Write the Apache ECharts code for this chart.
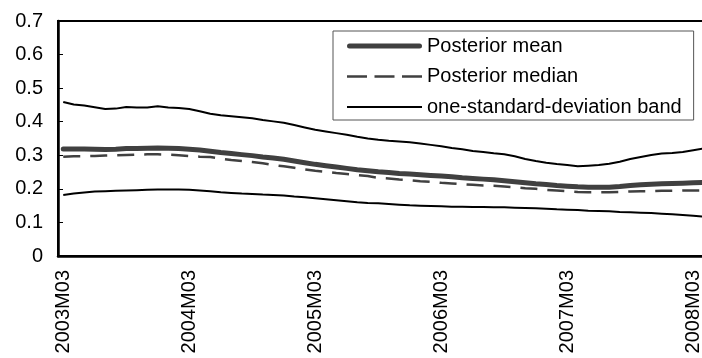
<!DOCTYPE html>
<html>
<head>
<meta charset="utf-8">
<script src="https://cdn.jsdelivr.net/npm/echarts@6/dist/echarts.min.js"></script>
<style>
  html, body { margin: 0; padding: 0; background: #fff; }
  #chart { width: 702px; height: 358px; }
</style>
</head>
<body>
<div id="chart"></div>
<script>
// months shown on the category axis
var months = [
  '2003M03', '2003M04', '2003M05', '2003M06', '2003M07', '2003M08', '2003M09', '2003M10', '2003M11', '2003M12',
  '2004M01', '2004M02', '2004M03', '2004M04', '2004M05', '2004M06', '2004M07', '2004M08', '2004M09', '2004M10',
  '2004M11', '2004M12', '2005M01', '2005M02', '2005M03', '2005M04', '2005M05', '2005M06', '2005M07', '2005M08',
  '2005M09', '2005M10', '2005M11', '2005M12', '2006M01', '2006M02', '2006M03', '2006M04', '2006M05', '2006M06',
  '2006M07', '2006M08', '2006M09', '2006M10', '2006M11', '2006M12', '2007M01', '2007M02', '2007M03', '2007M04',
  '2007M05', '2007M06', '2007M07', '2007M08', '2007M09', '2007M10', '2007M11', '2007M12', '2008M01', '2008M02',
  '2008M03', '2008M04'
];

var posteriorMean = [
  0.319, 0.319, 0.319, 0.318, 0.317, 0.318, 0.320, 0.320, 0.321, 0.322,
  0.321, 0.320, 0.318, 0.316, 0.312, 0.308, 0.305, 0.302, 0.299, 0.295,
  0.292, 0.288, 0.283, 0.278, 0.273, 0.269, 0.265, 0.261, 0.257, 0.254,
  0.251, 0.249, 0.246, 0.244, 0.242, 0.240, 0.238, 0.236, 0.233, 0.231,
  0.229, 0.227, 0.224, 0.221, 0.218, 0.215, 0.213, 0.210, 0.208, 0.206,
  0.205, 0.205, 0.205, 0.207, 0.210, 0.212, 0.214, 0.215, 0.216, 0.217,
  0.218, 0.219
];

var posteriorMedian = [
  0.296, 0.297, 0.297, 0.298, 0.299, 0.300, 0.301, 0.302, 0.303, 0.303,
  0.302, 0.300, 0.298, 0.296, 0.295, 0.290, 0.286, 0.283, 0.280, 0.276,
  0.271, 0.267, 0.263, 0.258, 0.254, 0.251, 0.247, 0.244, 0.241, 0.238,
  0.233, 0.231, 0.228, 0.226, 0.223, 0.221, 0.218, 0.216, 0.214, 0.212,
  0.210, 0.209, 0.207, 0.205, 0.202, 0.200, 0.197, 0.195, 0.193, 0.191,
  0.190, 0.190, 0.190, 0.191, 0.192, 0.193, 0.193, 0.194, 0.194, 0.195,
  0.195, 0.195
];

var bandUpper = [
  0.459, 0.451, 0.448, 0.443, 0.438, 0.439, 0.444, 0.442, 0.442, 0.446,
  0.442, 0.441, 0.438, 0.431, 0.424, 0.419, 0.416, 0.413, 0.410, 0.405,
  0.401, 0.397, 0.390, 0.383, 0.376, 0.371, 0.366, 0.361, 0.355, 0.350,
  0.346, 0.343, 0.341, 0.339, 0.335, 0.331, 0.327, 0.322, 0.318, 0.313,
  0.310, 0.306, 0.303, 0.297, 0.289, 0.283, 0.278, 0.274, 0.271, 0.267,
  0.269, 0.271, 0.275, 0.281, 0.289, 0.295, 0.301, 0.305, 0.307, 0.310,
  0.315, 0.320
];

var bandLower = [
  0.182, 0.186, 0.189, 0.192, 0.193, 0.194, 0.195, 0.196, 0.197, 0.198,
  0.198, 0.198, 0.197, 0.195, 0.193, 0.190, 0.188, 0.186, 0.185, 0.183,
  0.182, 0.180, 0.177, 0.175, 0.172, 0.169, 0.166, 0.163, 0.160, 0.158,
  0.157, 0.155, 0.153, 0.151, 0.150, 0.149, 0.148, 0.147, 0.147, 0.146,
  0.146, 0.145, 0.145, 0.144, 0.143, 0.142, 0.141, 0.139, 0.138, 0.137,
  0.135, 0.134, 0.133, 0.131, 0.130, 0.129, 0.128, 0.126, 0.124, 0.122,
  0.120, 0.117
];

var FONT = '"Liberation Sans", Arial, Helvetica, sans-serif';
var BAND = 'one-standard-deviation band';

// legend swatches drawn as plain line shapes (75 px long)
var iconThick = 'path://M2.5,0 H72.5 A2.5,2.5 0 0 1 72.5,5 H2.5 A2.5,2.5 0 0 1 2.5,0 Z';
var iconDash = 'path://M0,0 H20 V2.5 H0 Z M27.5,0 H47.5 V2.5 H27.5 Z M55,0 H75 V2.5 H55 Z';
var iconThin = 'path://M0,0 H75 V2 H0 Z';

var chart = echarts.init(document.getElementById('chart'), null, { renderer: 'canvas' });

var bandLine = { color: '#000', width: 2 };

chart.setOption({
  animation: false,
  backgroundColor: '#fff',
  textStyle: { fontFamily: FONT, color: '#000' },
  grid: {
    left: 58,
    top: 21,
    bottom: 102,
    right: -7,
    show: true,
    borderColor: '#000',
    borderWidth: 2,
    outerBoundsMode: 'none'
  },
  legend: {
    orient: 'vertical',
    left: 333,
    top: 31,
    data: [
      { name: 'Posterior mean', icon: iconThick },
      { name: 'Posterior median', icon: iconDash },
      { name: BAND, icon: iconThin }
    ],
    itemWidth: 75,
    itemHeight: 10,
    itemGap: 10.5,
    itemTextGap: 4,
    itemStyle: { borderWidth: 0 },
    padding: [5, 12, 3, 14],
    backgroundColor: '#fff',
    borderColor: '#555',
    borderWidth: 1,
    textStyle: { fontFamily: FONT, fontSize: 20, lineHeight: 20, color: '#000' }
  },
  xAxis: {
    type: 'category',
    data: months,
    boundaryGap: true,
    axisLine: { lineStyle: { color: '#000', width: 2.5 } },
    axisTick: { inside: true, length: 5, interval: 3, lineStyle: { color: '#000', width: 1 } },
    axisLabel: {
      interval: 11,
      rotate: 90,
      margin: 14,
      fontSize: 20,
      fontFamily: FONT,
      color: '#000'
    },
    splitLine: { show: false }
  },
  yAxis: {
    type: 'value',
    min: 0,
    max: 0.7,
    interval: 0.1,
    axisLine: { show: true, lineStyle: { color: '#000', width: 2.5 } },
    axisTick: { show: true, inside: true, length: 5, lineStyle: { color: '#000', width: 1 } },
    axisLabel: { margin: 15, fontSize: 20, fontFamily: FONT, color: '#000' },
    splitLine: { show: false }
  },
  series: [
    {
      name: BAND,
      type: 'line',
      data: bandUpper,
      symbol: 'none',
      lineStyle: bandLine,
      itemStyle: { color: '#000' },
      z: 3
    },
    {
      name: BAND,
      type: 'line',
      data: bandLower,
      symbol: 'none',
      lineStyle: bandLine,
      itemStyle: { color: '#000' },
      z: 3
    },
    {
      name: 'Posterior median',
      type: 'line',
      data: posteriorMedian,
      symbol: 'none',
      lineStyle: { color: '#404040', width: 2.5, type: [17, 10] },
      itemStyle: { color: '#404040' },
      z: 4
    },
    {
      name: 'Posterior mean',
      type: 'line',
      data: posteriorMean,
      symbol: 'none',
      lineStyle: { color: '#404040', width: 5, cap: 'round', join: 'round' },
      itemStyle: { color: '#404040' },
      z: 5
    }
  ]
});
</script>
</body>
</html>
